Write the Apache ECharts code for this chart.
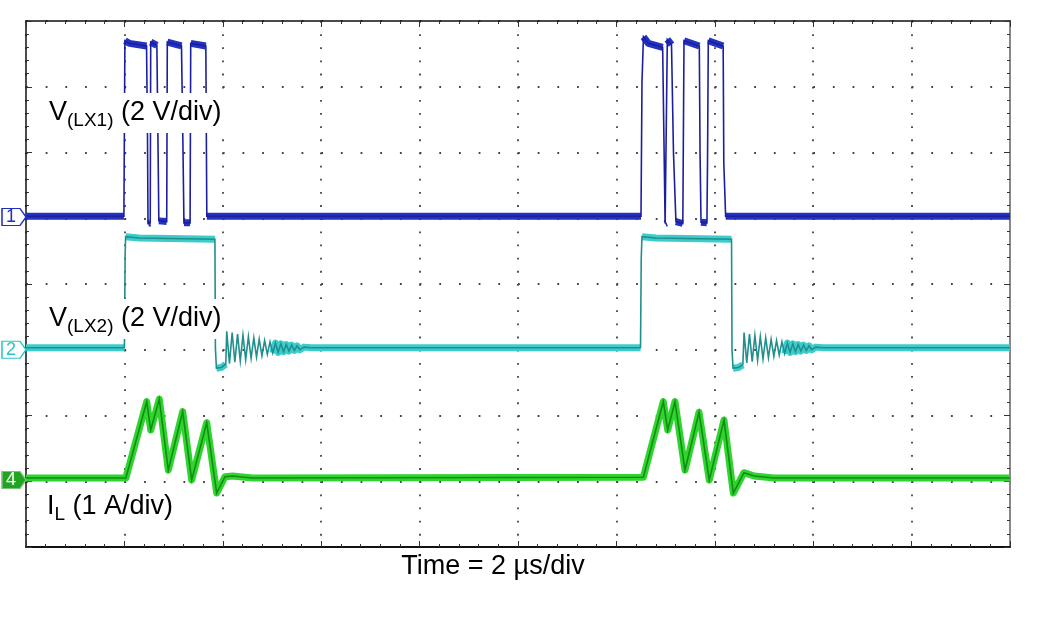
<!DOCTYPE html>
<html>
<head>
<meta charset="utf-8">
<script src="https://cdn.jsdelivr.net/npm/echarts@6/dist/echarts.min.js"></script>
<style>
html,body{margin:0;padding:0;background:#fff;}
#chart{width:1047px;height:628px;}
</style>
</head>
<body>
<div id="chart"></div>
<script>
// ---- Data (time in µs, amplitude in screen divisions from bottom) ----
const timeRange = [0, 20];          // 10 div × 2 µs/div
const divRange = [0, 8];            // 8 vertical divisions
const channelNames = ['1', '2', '4'];
const markerLevels = [5.02, 3.0, 1.02];

// V(LX1), channel 1
const lx1 = [
  [0, 5.03], [1.99, 5.03], [2.01, 7.70], [2.10, 7.66], [2.45, 7.62], [2.47, 6.20], [2.48, 4.92],
  [2.525, 4.93], [2.535, 7.68], [2.66, 7.63], [2.685, 6.00], [2.70, 4.96], [2.86, 4.95],
  [2.872, 7.68], [3.16, 7.62], [3.19, 6.10], [3.21, 4.93], [3.335, 4.93], [3.348, 7.66],
  [3.655, 7.62], [3.675, 5.03],
  [12.50, 5.03], [12.52, 7.07], [12.55, 7.76], [12.65, 7.66], [12.94, 7.60], [12.99, 4.92],
  [13.02, 4.93], [13.035, 7.72], [13.12, 7.64], [13.16, 6.00], [13.21, 4.95], [13.35, 4.92],
  [13.374, 7.70], [13.685, 7.62], [13.70, 6.00], [13.72, 4.94], [13.84, 4.93], [13.852, 5.85],
  [13.868, 7.70], [14.17, 7.62], [14.183, 5.84], [14.22, 5.03], [20, 5.03]
];

// V(LX2), channel 2
const lx2 = [
  [0, 3.03], [2.00, 3.03], [2.015, 4.45], [2.025, 4.72], [2.30, 4.70], [3.84, 4.68],
  [3.85, 3.02], [3.87, 2.72], [3.97, 2.73], [4.06, 2.78],
  [4.080, 3.28], [4.135, 2.79], [4.190, 3.26], [4.245, 2.81], [4.300, 3.24], [4.355, 2.83],
  [4.410, 3.22], [4.465, 2.85], [4.520, 3.20], [4.575, 2.87], [4.630, 3.18], [4.685, 2.89],
  [4.740, 3.16], [4.795, 2.91], [4.850, 3.14], [4.905, 2.93], [4.960, 3.12], [5.015, 2.95],
  [5.070, 3.10], [5.125, 2.96], [5.180, 3.09], [5.235, 2.97], [5.290, 3.08], [5.345, 2.98],
  [5.400, 3.07], [5.455, 2.99], [5.510, 3.06], [5.565, 3.00], [5.65, 3.04], [5.80, 3.03],
  [12.49, 3.03], [12.505, 4.40], [12.52, 4.72], [12.80, 4.70], [14.34, 4.68],
  [14.35, 3.00], [14.37, 2.72], [14.48, 2.73], [14.57, 2.77],
  [14.595, 3.26], [14.650, 2.80], [14.705, 3.24], [14.760, 2.82], [14.815, 3.22], [14.870, 2.84],
  [14.925, 3.20], [14.980, 2.86], [15.035, 3.18], [15.090, 2.88], [15.145, 3.16], [15.200, 2.90],
  [15.255, 3.14], [15.310, 2.92], [15.365, 3.12], [15.420, 2.94], [15.475, 3.10], [15.530, 2.96],
  [15.585, 3.09], [15.640, 2.97], [15.695, 3.08], [15.750, 2.98], [15.805, 3.07], [15.860, 2.99],
  [15.915, 3.06], [15.970, 3.00], [16.05, 3.04], [16.20, 3.03],
  [20, 3.03]
];

// I(L), channel 4
const il = [
  [0, 1.05], [2.03, 1.05], [2.453, 2.21], [2.535, 1.78], [2.709, 2.25], [2.892, 1.17],
  [3.185, 2.06], [3.368, 1.02], [3.673, 1.89], [3.876, 0.82], [4.045, 1.07], [4.20, 1.08],
  [4.60, 1.05],
  [12.547, 1.06], [12.953, 2.21], [13.043, 1.78], [13.191, 2.21], [13.394, 1.17], [13.679, 2.05],
  [13.888, 1.02], [14.187, 1.93], [14.376, 0.82], [14.593, 1.13], [14.80, 1.08], [15.20, 1.05],
  [20, 1.05]
];

// ---- Styling ----
const FONT = 'Liberation Sans, Arial, Helvetica, sans-serif';
const channels = [
  { data: lx1, core: '#1b1f9e', band: '#2432c2', bandW: 7, slope: 3, mark: 'outline', mcol: '#2030b8' },
  { data: lx2, core: '#208f8d', band: '#3ccccb', bandW: 7, slope: 3, mark: 'outline', mcol: '#2cc4c4' },
  { data: il,  core: '#138c13', band: '#2fd42f', bandW: 7, slope: 1e9, mark: 'fill', mcol: '#1fa51f' }
];

// thick "noise band" only on the flat-ish parts of a trace (derived from the data)
function bandData(d, maxSlope) {
  const out = [];
  for (let i = 0; i < d.length - 1; i++) {
    const a = d[i], b = d[i + 1];
    const s = Math.abs((b[1] - a[1]) / (b[0] - a[0]));
    if (s <= maxSlope) {
      if (out.length === 0 || out[out.length - 1] === null ||
          out[out.length - 1][0] !== a[0]) {
        if (out.length) out.push([a[0], null]);
        out.push(a);
      }
      out.push(b);
    } else if (out.length && out[out.length - 1][1] !== null) {
      out.push([a[0], null]);
    }
  }
  return out;
}

const series = [];
channels.forEach((c, i) => {
  series.push({
    type: 'line', data: bandData(c.data, c.slope), showSymbol: false, symbol: 'none',
    lineStyle: { color: c.band, width: c.bandW, cap: 'butt', join: 'round' },
    z: 2, silent: true, animation: false
  });
  const filled = c.mark === 'fill';
  series.push({
    type: 'line', data: c.data, showSymbol: false, symbol: 'none',
    lineStyle: { color: c.core, width: 1.6, join: 'miter' },
    z: 3, silent: true, animation: false,
    markPoint: {
      silent: true, animation: false,
      symbol: 'path://M0,0 L18,0 L24,8 L18,16 L0,16 Z',
      symbolSize: [24, 17], symbolOffset: [-12, 0],
      itemStyle: { color: filled ? c.mcol : '#ffffff', borderColor: filled ? '#7fbf7f' : c.mcol, borderWidth: 1.3 },
      label: { show: true, formatter: channelNames[i], color: filled ? '#ffffff' : c.mcol,
               fontSize: 18, fontFamily: FONT, offset: [-3, 0] },
      data: [{ coord: [timeRange[0], markerLevels[i]] }]
    }
  });
});

const tickCol = '#333';
function xAx(pos, lineCol, lineW, split) {
  return {
    type: 'value', min: timeRange[0], max: timeRange[1], interval: 2, position: pos,
    axisLine: { show: true, onZero: false, lineStyle: { color: lineCol, width: lineW } },
    axisTick: { show: true, inside: true, length: 6, lineStyle: { color: tickCol, width: 1 } },
    minorTick: { show: true, splitNumber: 5, length: 3, lineStyle: { color: tickCol, width: 1 } },
    axisLabel: { show: false },
    splitLine: { show: split, lineStyle: { color: '#444', width: 1.8, type: [1.8, 11.35] } }
  };
}
function yAx(pos, lineCol, lineW, split) {
  return {
    type: 'value', min: divRange[0], max: divRange[1], interval: 1, position: pos,
    axisLine: { show: true, onZero: false, lineStyle: { color: lineCol, width: lineW } },
    axisTick: { show: true, inside: true, length: 6, lineStyle: { color: tickCol, width: 1 } },
    minorTick: { show: true, splitNumber: 5, length: 3, lineStyle: { color: tickCol, width: 1 } },
    axisLabel: { show: false },
    splitLine: { show: split, lineStyle: { color: '#444', width: 1.8, type: [1.8, 17.88] } }
  };
}

function label(x, y, rich, text) {
  return {
    type: 'text', z: 100, silent: true,
    style: {
      x: x, y: y, text: text, rich: rich, align: 'left', verticalAlign: 'middle',
      backgroundColor: '#ffffff', padding: [3, 3, 3, 3], fill: '#000'
    }
  };
}
const richMain = {
  m: { fontSize: 27, fontFamily: FONT, color: '#000', lineHeight: 34 },
  s: { fontSize: 19, fontFamily: FONT, color: '#000', lineHeight: 19, verticalAlign: 'bottom' }
};

const option = {
  animation: false,
  backgroundColor: '#ffffff',
  grid: { left: 26, top: 21, width: 984, height: 526, containLabel: false },
  xAxis: [xAx('bottom', '#111', 2, true), xAx('top', '#111', 1.5, false)],
  yAxis: [yAx('left', '#111', 1.5, true), yAx('right', '#888', 2, false)],
  series: series,
  graphic: [
    label(46, 113, richMain, '{m|V}{s|(LX1)}{m| (2 V/div)}'),
    label(46, 319, richMain, '{m|V}{s|(LX2)}{m| (2 V/div)}'),
    label(44, 507, richMain, '{m|I}{s|L}{m| (1 A/div)}'),
    {
      type: 'text', z: 100, silent: true,
      style: { x: 493, y: 567, text: 'Time = 2 µs/div', align: 'center', verticalAlign: 'middle',
               fontSize: 27, fontFamily: FONT, fill: '#000' }
    }
  ]
};

const chart = echarts.init(document.getElementById('chart'), null, { renderer: 'canvas' });
chart.setOption(option);
</script>
</body>
</html>
